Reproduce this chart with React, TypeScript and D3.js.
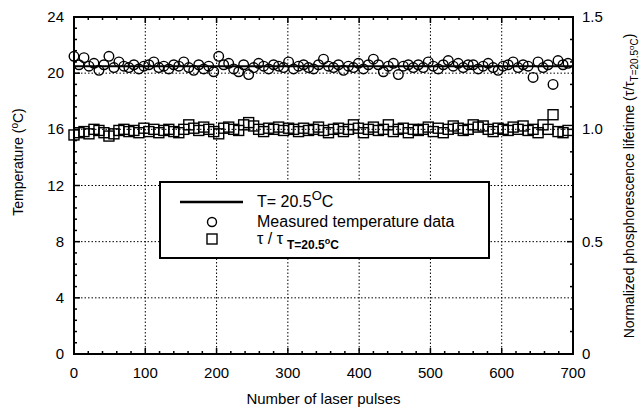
import React from 'react';
import * as d3 from 'd3';

// pulse numbers, one reading every 7 pulses
const pulses = d3.range(0, 700, 7);

// measured temperature (°C)
const tempData = [
  21.2, 20.6, 21.1, 20.5, 20.7, 20.2, 20.6, 21.2, 20.4, 20.8,
  20.5, 20.4, 20.6, 20.3, 20.5, 20.6, 20.8, 20.4, 20.5, 20.3,
  20.6, 20.5, 20.8, 20.4, 20.2, 20.6, 20.3, 20.5, 20.1, 21.2,
  20.6, 20.7, 20.3, 20.1, 20.6, 19.9, 20.4, 20.7, 20.5, 20.3,
  20.6, 20.5, 20.4, 20.8, 20.3, 20.5, 20.6, 20.4, 20.3, 20.6,
  21.0, 20.5, 20.4, 20.6, 20.2, 20.5, 20.4, 20.7, 20.3, 20.6,
  21.0, 20.6, 20.1, 20.5, 20.7, 19.9, 20.5, 20.6, 20.4, 20.6,
  20.4, 20.8, 20.5, 20.3, 20.6, 20.9, 20.5, 20.7, 20.4, 20.6,
  20.6, 20.3, 20.5, 20.7, 20.4, 20.2, 20.5, 20.6, 20.8, 20.4,
  20.6, 20.5, 19.7, 20.8, 20.4, 20.6, 19.2, 20.9, 20.6, 20.7,
];

// normalized lifetime tau / tau(T=20.5°C)
const tauData = [
  0.975, 0.985, 0.99, 0.98, 1.0, 0.995, 0.985, 0.97, 0.98, 0.995,
  1.0, 0.99, 0.995, 0.985, 1.005, 0.99, 1.0, 0.985, 0.995, 1.0,
  0.99, 0.985, 1.0, 1.02, 1.005, 0.995, 1.01, 1.0, 0.99, 0.98,
  1.005, 1.01, 1.0, 0.995, 1.02, 1.03, 1.015, 1.0, 0.99, 1.005,
  1.0, 1.01, 0.995, 1.005, 1.0, 0.99, 1.005, 0.995, 1.0, 1.01,
  0.995, 0.985, 1.0, 1.005, 0.99, 1.0, 1.02, 1.005, 0.985, 1.0,
  1.01, 0.995, 1.0, 1.02, 0.99, 1.0, 1.005, 0.985, 1.0, 0.995,
  1.0, 1.01, 0.99, 1.005, 0.985, 1.0, 1.015, 1.005, 0.995, 1.0,
  1.02, 1.01, 1.015, 1.0, 0.99, 1.005, 1.0, 0.995, 1.01, 1.0,
  1.015, 0.995, 1.0, 0.985, 1.02, 1.0, 1.065, 0.99, 0.985, 0.995,
];

const refTemp = 20.5;
const xTicks = [0, 100, 200, 300, 400, 500, 600, 700];
const yTicks = [0, 4, 8, 12, 16, 20, 24];
const y2Ticks = [0, 0.5, 1.0, 1.5];

const W = 642;
const H = 414;
const margin = { top: 17, right: 69, bottom: 60, left: 74 };
const FONT = '"Liberation Sans", Arial, sans-serif';

export default function App() {
  const iw = W - margin.left - margin.right;
  const ih = H - margin.top - margin.bottom;

  const x = d3.scaleLinear().domain([0, 700]).range([0, iw]);
  const y = d3.scaleLinear().domain([0, 24]).range([ih, 0]);
  const y2 = d3.scaleLinear().domain([0, 1.5]).range([ih, 0]);

  const xMinor = d3.range(0, 701, 20);
  const yMinor = d3.range(0, 24.01, 0.8);
  const y2Minor = d3.range(0, 1.501, 0.1);

  const refLine = d3.line<number>()
    .x(d => x(d))
    .y(() => y(refTemp));

  const sq = 10;

  return (
    <div style={{ position: 'absolute', left: 0, top: 0 }}>
      <svg width={W} height={H} style={{ display: 'block', background: '#fff' }} fontFamily={FONT}>
        <g transform={`translate(${margin.left},${margin.top})`}>
          {/* grid */}
          {xTicks.slice(1, -1).map(t => (
            <line key={'gx' + t} x1={x(t)} x2={x(t)} y1={0} y2={ih}
              stroke="#000" strokeWidth={1} strokeDasharray="1.5,2" />
          ))}
          {yTicks.slice(1, -1).map(t => (
            <line key={'gy' + t} x1={0} x2={iw} y1={y(t)} y2={y(t)}
              stroke="#000" strokeWidth={1} strokeDasharray="1.5,2" />
          ))}

          {/* minor ticks, all four sides, pointing in */}
          {xMinor.map(t => (
            <g key={'mx' + t}>
              <line x1={x(t)} x2={x(t)} y1={ih} y2={ih - (t % 100 === 0 ? 6 : 3)} stroke="#000" strokeWidth={1.5} />
              <line x1={x(t)} x2={x(t)} y1={0} y2={t % 100 === 0 ? 6 : 3} stroke="#000" strokeWidth={1.5} />
            </g>
          ))}
          {yMinor.map((t, i) => (
            <line key={'my' + i} x1={0} x2={i % 5 === 0 ? 6 : 3} y1={y(t)} y2={y(t)} stroke="#000" strokeWidth={1.5} />
          ))}
          {y2Minor.map((t, i) => (
            <line key={'my2' + i} x1={iw} x2={iw - (i % 5 === 0 ? 6 : 3)} y1={y2(t)} y2={y2(t)} stroke="#000" strokeWidth={1.5} />
          ))}

          {/* reference line */}
          <path d={refLine([0, 700]) || ''} fill="none" stroke="#000" strokeWidth={2} />

          {/* measured temperature */}
          {tempData.map((v, i) => (
            <circle key={'c' + i} cx={x(pulses[i])} cy={y(v)} r={4.8}
              fill="none" stroke="#000" strokeWidth={1.4} />
          ))}

          {/* normalized lifetime */}
          {tauData.map((v, i) => (
            <rect key={'s' + i} x={x(pulses[i]) - sq / 2} y={y2(v) - sq / 2} width={sq} height={sq}
              fill="none" stroke="#000" strokeWidth={1.4} />
          ))}

          {/* frame */}
          <rect x={0} y={0} width={iw} height={ih} fill="none" stroke="#000" strokeWidth={2} />

          {/* tick labels */}
          {xTicks.map(t => (
            <text key={'tx' + t} x={x(t)} y={ih + 24} textAnchor="middle" fontSize={15}>{t}</text>
          ))}
          {yTicks.map(t => (
            <text key={'ty' + t} x={-10} y={y(t) + 5} textAnchor="end" fontSize={15}>{t}</text>
          ))}
          {y2Ticks.map(t => (
            <text key={'ty2' + t} x={iw + 9} y={y2(t) + 5} textAnchor="start" fontSize={15}>
              {t === 0 ? '0' : t.toFixed(1)}
            </text>
          ))}

          {/* legend */}
          <g transform="translate(86,165)">
            <rect x={0} y={0} width={329} height={76} fill="#fff" stroke="#000" strokeWidth={2} />
            <line x1={20} x2={83} y1={20} y2={20} stroke="#000" strokeWidth={2.5} />
            <text x={97} y={25} fontSize={16}>
              T= 20.5<tspan dy={-7} fontSize={13}>O</tspan><tspan dy={7}>C</tspan>
            </text>
            <circle cx={52} cy={40} r={4.5} fill="none" stroke="#000" strokeWidth={1.4} />
            <text x={97} y={45} fontSize={16}>Measured temperature data</text>
            <rect x={47} y={52} width={10} height={10} fill="none" stroke="#000" strokeWidth={1.4} />
            <text x={97} y={62} fontSize={16}>
              τ / τ
              <tspan dx={4} dy={5} fontSize={12} fontWeight="bold">T=20.5</tspan>
              <tspan dy={-5} fontSize={9} fontWeight="bold">o</tspan>
              <tspan dy={5} fontSize={12} fontWeight="bold">C</tspan>
            </text>
          </g>
        </g>

        {/* axis titles */}
        <text x={margin.left + iw / 2} y={404} textAnchor="middle" fontSize={15}>Number of laser pulses</text>
        <text transform="translate(23,162) rotate(-90)" textAnchor="middle" fontSize={14}>
          Temperature (<tspan dy={-5} fontSize={10}>o</tspan><tspan dy={5}>C)</tspan>
        </text>
        <text transform={`translate(634,${186}) rotate(-90)`} textAnchor="middle" fontSize={14}>
          Normalized phosphorescence lifetime (τ/τ
          <tspan dy={4} fontSize={10}>T=20.5</tspan>
          <tspan dy={-4} fontSize={8}>o</tspan>
          <tspan dy={4} fontSize={10}>C</tspan>
          <tspan dy={-4}>)</tspan>
        </text>
      </svg>
    </div>
  );
}
